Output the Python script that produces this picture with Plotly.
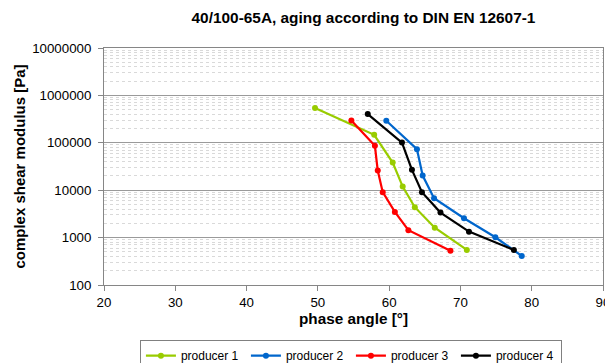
import plotly.graph_objects as go

# ---- data ----
p1_angle = [49.6, 57.9, 60.5, 61.9, 63.6, 66.4, 70.9]
p1_mod = [541000, 147500, 38300, 11900, 4380, 1620, 549]

p2_angle = [59.6, 63.9, 64.7, 66.3, 70.5, 74.9, 78.6]
p2_mod = [291000, 73500, 20400, 6780, 2565, 1018, 410]

p3_angle = [54.7, 58.0, 58.4, 59.1, 60.8, 62.7, 68.6]
p3_mod = [296000, 86300, 26000, 9080, 3480, 1431, 530]

p4_angle = [57.0, 61.8, 63.2, 64.6, 67.2, 71.2, 77.5]
p4_mod = [403000, 101000, 26900, 9080, 3370, 1336, 550]

series_names = ["producer 1", "producer 2", "producer 3", "producer 4"]
series_colors = ["#99cc00", "#0066cc", "#ff0000", "#000000"]

y_tick_vals = [100, 1000, 10000, 100000, 1000000, 10000000]
y_tick_text = ["100", "1000", "10000", "100000", "1000000", "10000000"]
x_tick_vals = [20, 30, 40, 50, 60, 70, 80, 90]

title_text = "40/100-65A, aging according to DIN EN 12607-1"
x_title = "phase angle [°]"
y_title = "complex shear modulus [Pa]"

FONT = "Liberation Sans, Arial, sans-serif"

fig = go.Figure()
for name, color, xs, ys in zip(
    series_names, series_colors,
    [p1_angle, p2_angle, p3_angle, p4_angle],
    [p1_mod, p2_mod, p3_mod, p4_mod],
):
    fig.add_trace(go.Scatter(
        x=xs, y=ys, name=name, mode="lines+markers",
        line=dict(color=color, width=2.2),
        marker=dict(color=color, size=6, symbol="circle"),
    ))

# The page body keeps the browser's default 8 px margin, so the figure is
# sized to fit the window that remains.
fig.update_layout(
    width=605, height=355,
    margin=dict(l=96, r=10, t=40, b=78, autoexpand=False),
    paper_bgcolor="white", plot_bgcolor="white",
    font=dict(family=FONT, size=12, color="#000000"),
    title=dict(text="<b>" + title_text + "</b>", x=0.5876, xanchor="center",
               y=0.972, yanchor="middle",
               font=dict(family=FONT, size=15.4, color="#000000")),
    showlegend=True,
    legend=dict(
        orientation="h", x=0.072, xanchor="left", y=-0.233, yanchor="top",
        bordercolor="#808080", borderwidth=1,
        font=dict(family=FONT, size=12),
        entrywidth=60, entrywidthmode="pixels", itemwidth=30,
    ),
)

fig.update_xaxes(
    range=[20, 90], tickvals=x_tick_vals,
    showgrid=False, zeroline=False, automargin=False,
    showline=True, linecolor="#868686", linewidth=1, mirror=True,
    ticks="outside", ticklen=5, tickcolor="#868686",
    tickfont=dict(family=FONT, size=13.3),
    title=dict(text="<b>" + x_title + "</b>", font=dict(family=FONT, size=15.3), standoff=3),
)
fig.update_yaxes(
    type="log", range=[2, 7], tickvals=y_tick_vals, ticktext=y_tick_text,
    showgrid=True, gridcolor="#9a9a9a", gridwidth=1, zeroline=False, automargin=False,
    showline=True, linecolor="#868686", linewidth=1, mirror=True,
    ticks="outside", ticklen=5, tickcolor="#868686", ticklabelstandoff=4,
    tickfont=dict(family=FONT, size=13.3),
    minor=dict(showgrid=True, gridcolor="#d9d9d9", griddash="dot", gridwidth=1,
               dtick="D1"),
    title=dict(text="<b>" + y_title + "</b>", font=dict(family=FONT, size=15), standoff=2),
)

fig.write_html("out.html")
